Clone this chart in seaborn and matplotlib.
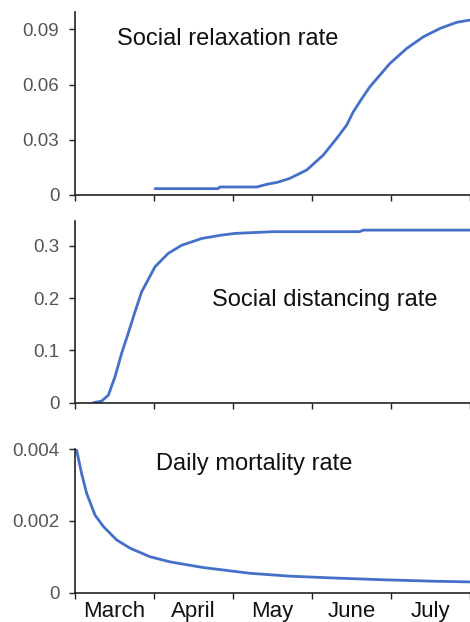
import matplotlib
matplotlib.use("Agg")
import matplotlib.pyplot as plt
import seaborn as sns
import pandas as pd

sns.set_theme(style="white")
plt.rcParams['font.family'] = ['Liberation Sans', 'DejaVu Sans']

# Data (x = days since mid-February; month boundaries every 30 days)
month_labels = ["March", "April", "May", "June", "July"]
month_edges = [0, 30, 60, 90, 120, 150]
month_centers = [15, 45, 75, 105, 135]

relax_days = [30.4, 54.3, 55, 69, 73, 77, 81.6, 88, 94.3, 99.4, 103.2, 105.7, 109,
              112, 116, 119.6, 126, 132.3, 138.7, 145, 150]
relax_vals = [0.0033, 0.0033, 0.0042, 0.0042, 0.0057, 0.0068, 0.0089, 0.01345, 0.0216,
              0.0307, 0.038, 0.0452, 0.0525, 0.0588, 0.0655, 0.0715, 0.0797, 0.086,
              0.0906, 0.0939, 0.0951]

dist_days = [7.0, 10.1, 12.7, 15.2, 17.7, 20.2, 22.8, 25.3, 30.4, 35.4, 40.5, 48.1,
             55.7, 60.8, 75.2, 108, 109.5, 150]
dist_vals = [0.0, 0.003, 0.0147, 0.0497, 0.0944, 0.1326, 0.174, 0.212, 0.26, 0.2855,
             0.301, 0.314, 0.3205, 0.3237, 0.327, 0.327, 0.330, 0.330]

mort_days = [0.0, 0.6, 2.5, 4.4, 7.6, 10.8, 15.8, 20.9, 28.5, 36, 48.7, 66.5, 81.6,
             98, 117, 136, 150]
mort_vals = [0.0040, 0.00397, 0.00332, 0.00277, 0.00216, 0.00184, 0.00147, 0.00124,
             0.0010, 0.00086, 0.0007, 0.00054, 0.00046, 0.00041, 0.00036, 0.00032,
             0.0003]

relax_ticks = [0, 0.03, 0.06, 0.09]
relax_ticklabels = ["0", "0.03", "0.06", "0.09"]
dist_ticks = [0, 0.1, 0.2, 0.3]
dist_ticklabels = ["0", "0.1", "0.2", "0.3"]
mort_ticks = [0, 0.002, 0.004]
mort_ticklabels = ["0", "0.002", "0.004"]

line_color = "#4570c8"
W, H = 470, 622
fig = plt.figure(figsize=(W / 100, H / 100), dpi=100)

def frac(top, bottom, left=75, right=470):
    return [left / W, 1 - bottom / H, (right - left) / W, (bottom - top) / H]

panels = [
    (frac(12, 194.7), relax_days, relax_vals, (0, 0.0995), relax_ticks, relax_ticklabels,
     "Social relaxation rate", (0.106, 0.85)),
    (frac(220.7, 402.7), dist_days, dist_vals, (0, 0.348), dist_ticks, dist_ticklabels,
     "Social distancing rate", (0.347, 0.564)),
    (frac(449, 592.7), mort_days, mort_vals, (0, 0.004), mort_ticks, mort_ticklabels,
     "Daily mortality rate", (0.205, 0.895)),
]

for i, (rect, xd, yd, ylim, yt, ytl, title, tpos) in enumerate(panels):
    ax = fig.add_axes(rect)
    df = pd.DataFrame({"day": xd, "val": yd})
    sns.lineplot(data=df, x="day", y="val", ax=ax, color=line_color, linewidth=2.0)
    ax.set_xlim(0, 150)
    ax.set_ylim(*ylim)
    ax.set_xlabel("")
    ax.set_ylabel("")
    for s in ["top", "right"]:
        ax.spines[s].set_visible(False)
    for s in ["left", "bottom"]:
        ax.spines[s].set_visible(True)
        ax.spines[s].set_color("#222222")
        ax.spines[s].set_linewidth(1.2)
    ax.set_yticks(yt)
    ax.set_yticklabels(ytl)
    ax.set_xticks(month_edges)
    ax.tick_params(axis="both", which="major", direction="out", length=4.3, width=1.0,
                   color="#222222", left=True, bottom=True)
    ax.tick_params(axis="y", labelsize=13.5, labelcolor="#555555", pad=7)
    if i == 2:
        ax.set_xticklabels([""] * len(month_edges))
        ax.set_xticks(month_centers, minor=True)
        ax.set_xticklabels(month_labels, minor=True)
        ax.tick_params(axis="x", which="minor", length=0, labelsize=16,
                       labelcolor="#111111", pad=6)
    else:
        ax.set_xticklabels([])
    ax.text(tpos[0], tpos[1], title, transform=ax.transAxes, fontsize=17,
            color="#111111", ha="left", va="center")
    ax.patch.set_alpha(0)

fig.savefig("out.png", dpi=100)
